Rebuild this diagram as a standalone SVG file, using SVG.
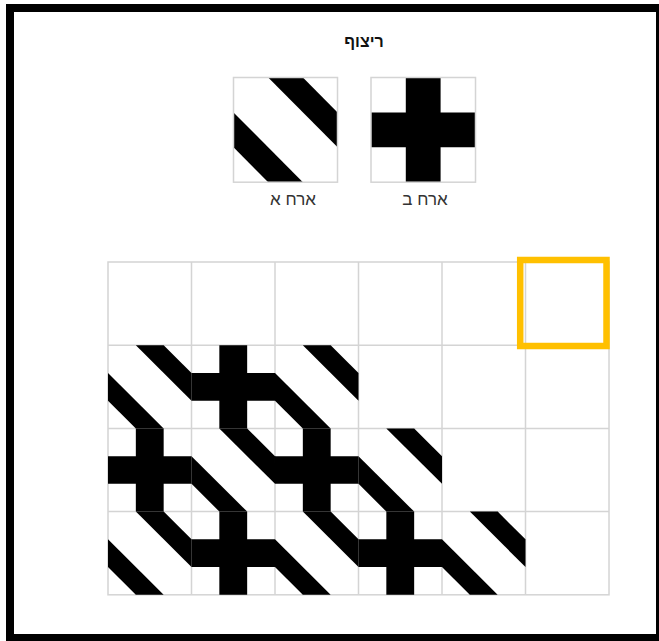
<svg xmlns="http://www.w3.org/2000/svg" xmlns:xlink="http://www.w3.org/1999/xlink" width="659" height="641" viewBox="0 0 659 641">
<style>
.frame{fill:#fff;stroke:#000;stroke-width:8}
.cell{fill:none;stroke:#d4d4d4;stroke-width:1.5}
.ink{fill:#000}
.title{font-family:"Liberation Sans","DejaVu Sans",sans-serif;font-size:16px;font-weight:bold;fill:#111;text-anchor:middle}
.lbl{font-family:"Liberation Sans","DejaVu Sans",sans-serif;font-size:17px;fill:#333;text-anchor:middle}
.hl{fill:none;stroke:#FFC000;stroke-width:6.5}
</style>
<defs>
<g id="tA" class="ink">
<polygon points="1,0 2,0 3,1 3,2"/>
<polygon points="0,1 2,3 1,3 0,2"/>
</g>
<g id="tB" class="ink">
<polygon points="1,0 2,0 2,1 3,1 3,2 2,2 2,3 1,3 1,2 0,2 0,1 1,1"/>
</g>
</defs>
<rect class="frame" x="10" y="8" width="650" height="630"/>
<g id="title"><text class="title" x="364" y="47">ריצוף</text></g>
<g id="tile-a">
<use xlink:href="#tA" transform="translate(233.5,77.5) scale(34.7,34.9)"/>
<rect class="cell" x="233.5" y="77.5" width="104" height="104.7"/>
<text class="lbl" x="293" y="205">ארח א</text>
</g>
<g id="tile-b">
<use xlink:href="#tB" transform="translate(371,77.5) scale(34.8,34.9)"/>
<rect class="cell" x="371" y="77.5" width="104.5" height="104.7"/>
<text class="lbl" x="425" y="205">ארח ב</text>
</g>
<g id="grid">
<g id="grid-lines" class="cell">
<rect x="108" y="262" width="501" height="332.8"/>
<line x1="191.5" y1="262" x2="191.5" y2="594.8"/>
<line x1="275" y1="262" x2="275" y2="594.8"/>
<line x1="358.5" y1="262" x2="358.5" y2="594.8"/>
<line x1="442" y1="262" x2="442" y2="594.8"/>
<line x1="525.5" y1="262" x2="525.5" y2="594.8"/>
<line x1="108" y1="345.2" x2="609" y2="345.2"/>
<line x1="108" y1="428.4" x2="609" y2="428.4"/>
<line x1="108" y1="511.6" x2="609" y2="511.6"/>
</g>
<g id="tiles">
<use xlink:href="#tA" transform="translate(108,345.2) scale(27.833,27.733)"/>
<use xlink:href="#tB" transform="translate(191.5,345.2) scale(27.833,27.733)"/>
<use xlink:href="#tA" transform="translate(275,345.2) scale(27.833,27.733)"/>
<use xlink:href="#tB" transform="translate(108,428.4) scale(27.833,27.733)"/>
<use xlink:href="#tA" transform="translate(191.5,428.4) scale(27.833,27.733)"/>
<use xlink:href="#tB" transform="translate(275,428.4) scale(27.833,27.733)"/>
<use xlink:href="#tA" transform="translate(358.5,428.4) scale(27.833,27.733)"/>
<use xlink:href="#tA" transform="translate(108,511.6) scale(27.833,27.733)"/>
<use xlink:href="#tB" transform="translate(191.5,511.6) scale(27.833,27.733)"/>
<use xlink:href="#tA" transform="translate(275,511.6) scale(27.833,27.733)"/>
<use xlink:href="#tB" transform="translate(358.5,511.6) scale(27.833,27.733)"/>
<use xlink:href="#tA" transform="translate(442,511.6) scale(27.833,27.733)"/>
</g>
<rect id="highlight" class="hl" x="520.2" y="260" width="86.3" height="86"/>
</g>
</svg>
